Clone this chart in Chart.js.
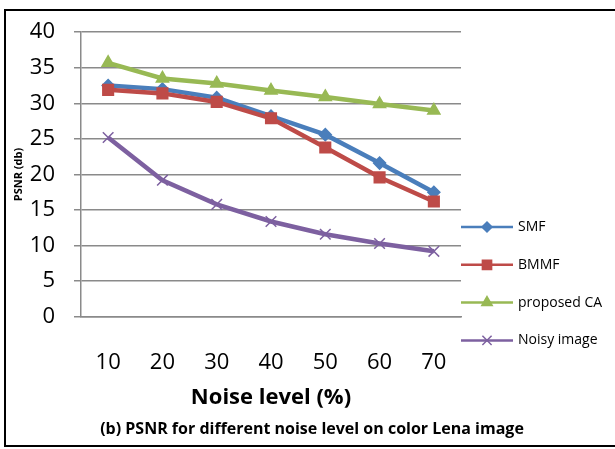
<!DOCTYPE html>
<html>
<head>
<meta charset="utf-8">
<script src="https://cdn.jsdelivr.net/npm/chart.js@4"></script>
<style>
  html, body { margin: 0; padding: 0; background: #fff; }
  #psnrChart { display: block; }
</style>
</head>
<body>
<canvas id="psnrChart" width="615" height="449"></canvas>
<script>
(function () {
    'use strict';

    // ── Data ────────────────────────────────────────────────
    const noiseLevels = ['10', '20', '30', '40', '50', '60', '70'];
    const smf         = [32.5, 32.0, 30.8, 28.2, 25.6, 21.6, 17.5];
    const bmmf        = [31.9, 31.4, 30.2, 27.9, 23.8, 19.6, 16.2];
    const proposedCA  = [35.7, 33.5, 32.8, 31.8, 30.9, 29.9, 29.0];
    const noisyImage  = [25.2, 19.2, 15.8, 13.4, 11.6, 10.3, 9.2];
    const seriesNames = ['SMF', 'BMMF', 'proposed CA', 'Noisy image'];

    const FONT  = "'Open Sans', sans-serif";
    const GRID  = '#8a8a8a';

    // ── Outer frame round the figure ────────────────────────
    const framePlugin = {
        id: 'frame',
        afterDraw(chart) {
            const c = chart.ctx;
            c.save();
            c.strokeStyle = '#000';
            c.lineWidth = 2;
            c.strokeRect(5, 10, 640, 436);
            c.restore();
        }
    };

    // ── Legend: line sample + marker, like the Excel one ────
    const legendPlugin = {
        id: 'sideLegend',
        afterDraw(chart) {
            const c = chart.ctx;
            c.save();
            chart.data.datasets.forEach((ds, i) => {
                const y = 227 + i * 37.8;
                c.strokeStyle = ds.borderColor;
                c.lineWidth = 2.5;
                c.beginPath();
                c.moveTo(461, y);
                c.lineTo(513, y);
                c.stroke();
                c.fillStyle = ds.pointBackgroundColor;
                c.strokeStyle = ds.pointBorderColor;
                c.lineWidth = 1.5;
                Chart.helpers.drawPoint(c, {
                    pointStyle:  ds.pointStyle,
                    radius:      ds.legendRadius,
                    borderWidth: 1.5
                }, 487, y);
                c.fillStyle = '#000';
                c.font = '14px ' + FONT;
                c.textAlign = 'left';
                c.textBaseline = 'middle';
                c.fillText(ds.label, 518, y);
            });
            c.restore();
        }
    };

    function series(label, data, color, style, radius, legendRadius, order) {
        return {
            label:                label,
            data:                 data,
            borderColor:          color,
            backgroundColor:      color,
            borderWidth:          4.5,
            pointStyle:           style,
            pointRadius:          radius,
            pointBackgroundColor: color,
            pointBorderColor:     color,
            pointBorderWidth:     1.5,
            legendRadius:         legendRadius,
            tension:              0,
            fill:                 false,
            order:                order
        };
    }

    new Chart(document.getElementById('psnrChart'), {
        type: 'line',
        data: {
            labels: noiseLevels,
            datasets: [
                series(seriesNames[0], smf,        '#4A7EBB', 'rectRot',  6,   5,   4),
                series(seriesNames[1], bmmf,       '#BE4B48', 'rect',     7.5, 6.5, 3),
                series(seriesNames[2], proposedCA, '#98B954', 'triangle', 7,   6,   2),
                series(seriesNames[3], noisyImage, '#7D60A0', 'crossRot', 7.5, 6.5, 1)
            ]
        },
        options: {
            responsive: false,
            animation:  false,
            layout: { padding: { left: 9, top: 31, right: 0, bottom: 4 } },
            plugins: {
                legend:  { display: false },
                tooltip: { enabled: false },
                title: {
                    display:  true,
                    position: 'bottom',
                    text:     '(b) PSNR for different noise level on color Lena image',
                    color:    '#000',
                    font:     { family: FONT, size: 16, weight: 'bold' },
                    padding:  { top: 6, bottom: 6 }
                }
            },
            scales: {
                x: {
                    offset: true,
                    afterFit(scale) { scale.height = 97; },
                    grid:   { display: false, drawTicks: false },
                    border: { display: true, color: GRID, width: 1.5 },
                    ticks:  { color: '#000', padding: 33, font: { family: FONT, size: 22 } },
                    title: {
                        display: true,
                        text:    'Noise level (%)',
                        color:   '#000',
                        font:    { family: FONT, size: 22, weight: 'bold' },
                        padding: { top: 4, bottom: 2.5 }
                    }
                },
                y: {
                    min: 0,
                    max: 40,
                    afterFit(scale) { scale.width = 72; },
                    grid:   { color: GRID, lineWidth: 1.5, tickLength: 7, tickColor: GRID },
                    border: { display: true, color: GRID, width: 1.5 },
                    ticks:  { stepSize: 5, color: '#000', padding: 19, font: { family: FONT, size: 22 } },
                    title: {
                        display: true,
                        text:    'PSNR (db)',
                        color:   '#000',
                        font:    { family: FONT, size: 11, weight: 'bold' },
                        padding: { top: 3, bottom: 0 }
                    }
                },
                // empty right-hand axis that only reserves room for the legend
                legendSpace: {
                    type:     'linear',
                    position: 'right',
                    afterFit(scale) { scale.width = 154; },
                    grid:     { display: false, drawTicks: false },
                    border:   { display: false },
                    ticks:    { display: false }
                }
            }
        },
        plugins: [framePlugin, legendPlugin]
    });
})();
</script>
</body>
</html>
